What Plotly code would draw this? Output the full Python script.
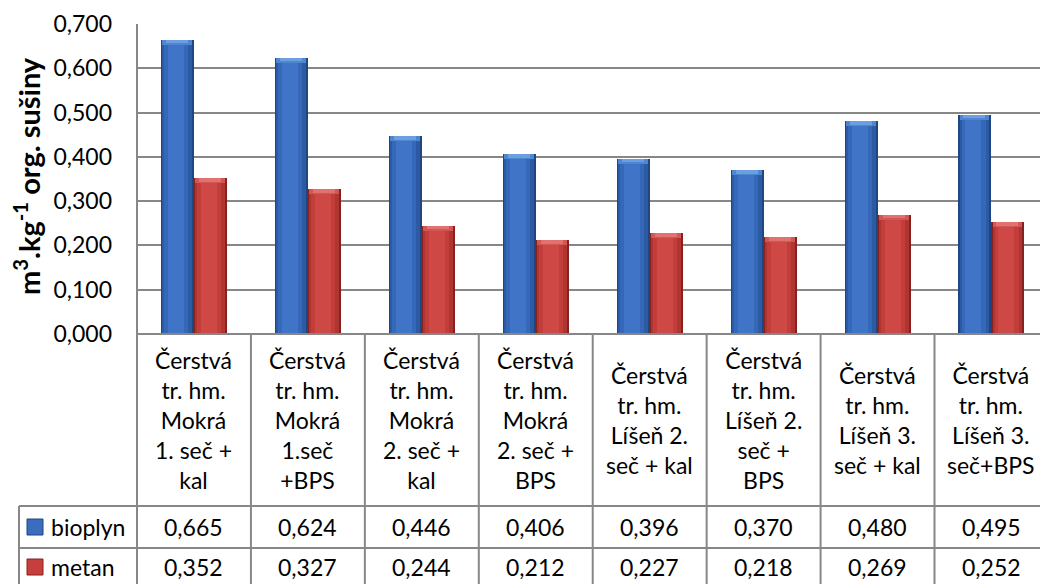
import plotly.graph_objects as go

# Category labels as they appear in the data table header
categories = [
    "Čerstvá<br>tr. hm.<br>Mokrá<br>1. seč +<br>kal",
    "Čerstvá<br>tr. hm.<br>Mokrá<br>1.seč<br>+BPS",
    "Čerstvá<br>tr. hm.<br>Mokrá<br>2. seč +<br>kal",
    "Čerstvá<br>tr. hm.<br>Mokrá<br>2. seč +<br>BPS",
    "Čerstvá<br>tr. hm.<br>Líšeň 2.<br>seč + kal",
    "Čerstvá<br>tr. hm.<br>Líšeň 2.<br>seč +<br>BPS",
    "Čerstvá<br>tr. hm.<br>Líšeň 3.<br>seč + kal",
    "Čerstvá<br>tr. hm.<br>Líšeň 3.<br>seč+BPS",
]
series_names = ["bioplyn", "metan"]
bioplyn = [0.665, 0.624, 0.446, 0.406, 0.396, 0.370, 0.480, 0.495]
metan = [0.352, 0.327, 0.244, 0.212, 0.227, 0.218, 0.269, 0.252]
y_ticks = [0.0, 0.1, 0.2, 0.3, 0.4, 0.5, 0.6, 0.7]
y_title = "m<sup>3</sup>.kg<sup>-1</sup> org. sušiny"

FONT = "Lato"
FS = 23
GRID = "#878787"

W, H = 1040, 584
L, T, B = 137, 24, 250
PLOT_H = H - T - B
PLOT_W = W - L
CAT_PX = 113.93                      # width of one category column in px
X_MAX = -0.5 + PLOT_W / CAT_PX       # the last column runs past the right edge
BAR_W = 33 / CAT_PX
PX_PER_UNIT = PLOT_H / 0.7


def paper_y(px):
    return (H - B - px) / PLOT_H


def paper_x(px):
    return (px - L) / PLOT_W


def fmt(v):
    return f"{v:.3f}".replace(".", ",")


fig = go.Figure()

# Shaded column bars: stacked layers, each narrower and lighter than the last
layers = {
    "bioplyn": [(0, 0, "#1E4680"), (1.5, 2.0, "#2C5BA3"), (3.5, 5.5, "#3568B8"), (7.0, 10.0, "#3F74C6")],
    "metan": [(0, 0, "#87211F"), (1.5, 2.0, "#B03532"), (3.5, 5.5, "#C23E3B"), (7.0, 10.0, "#CE4845")],
}
# lighter bevel at the top of each column
caps = {"bioplyn": [(1.5, 2.0, 5.0, "#4F86D2"), (5.0, 6.0, 3.5, "#6C9EE0")],
        "metan": [(1.5, 2.0, 5.0, "#D25654"), (5.0, 6.0, 3.5, "#E27270")]}
offsets = {"bioplyn": -BAR_W, "metan": 0.0}
values = {"bioplyn": bioplyn, "metan": metan}

for name in series_names:
    vals = values[name]
    for li, (inl, inr, col) in enumerate(layers[name]):
        fig.add_trace(go.Bar(
            x=categories, y=vals, name=name,
            offset=offsets[name] + inl / CAT_PX,
            width=BAR_W - (inl + inr) / CAT_PX,
            marker=dict(color=col, line=dict(width=0)),
            showlegend=False, hoverinfo="skip" if li else None,
        ))
    for inl, inr, h_px, col in caps[name]:
        cap_h = h_px / PX_PER_UNIT
        fig.add_trace(go.Bar(
            x=categories, y=[cap_h] * len(vals), base=[v - cap_h for v in vals],
            offset=offsets[name] + inl / CAT_PX, width=BAR_W - (inl + inr) / CAT_PX,
            marker=dict(color=col, line=dict(width=0)),
            showlegend=False, hoverinfo="skip",
        ))

shapes = []
line = dict(color=GRID, width=2)
bottom = paper_y(H + 10)
# plot left border, from the top gridline to the bottom of the table
shapes.append(dict(type="line", xref="paper", yref="paper", x0=0, x1=0, y0=1, y1=bottom, line=line))
# column separators of the data table
for i in range(len(categories) - 1):
    shapes.append(dict(type="line", xref="x", yref="paper", x0=i + 0.5, x1=i + 0.5,
                       y0=0, y1=bottom, line=line))
# baseline / top of table
shapes.append(dict(type="line", xref="paper", yref="paper", x0=0, x1=1, y0=0, y1=0, line=line))
# row separators incl. legend column
for ypx in (506, 548):
    shapes.append(dict(type="line", xref="paper", yref="paper", x0=paper_x(19), x1=1,
                       y0=paper_y(ypx), y1=paper_y(ypx), line=line))
shapes.append(dict(type="line", xref="paper", yref="paper", x0=paper_x(19), x1=paper_x(19),
                   y0=paper_y(506), y1=bottom, line=line))

annotations = []
# header cells
for i, cat in enumerate(categories):
    annotations.append(dict(x=i, y=paper_y(420), xref="x", yref="paper", text=cat,
                            showarrow=False, xanchor="center", yanchor="middle",
                            font=dict(family=FONT, size=FS, color="#000")))
# value rows with legend keys
row_centers = {"bioplyn": 527, "metan": 567}
key_colors = {"bioplyn": ("#3A6DBD", "#1E4680"), "metan": ("#C63F3C", "#87211F")}
for name in series_names:
    yc = row_centers[name]
    for i, v in enumerate(values[name]):
        annotations.append(dict(x=i, y=paper_y(yc), xref="x", yref="paper", text=fmt(v),
                                showarrow=False, xanchor="center", yanchor="middle",
                                font=dict(family=FONT, size=FS, color="#000")))
    annotations.append(dict(x=paper_x(49), y=paper_y(yc), xref="paper", yref="paper", text=name,
                            showarrow=False, xanchor="left", yanchor="middle",
                            font=dict(family=FONT, size=FS, color="#000")))
    fill, edge = key_colors[name]
    shapes.append(dict(type="rect", xref="paper", yref="paper",
                       x0=paper_x(27), x1=paper_x(43), y0=paper_y(yc - 8), y1=paper_y(yc + 8),
                       fillcolor=fill, line=dict(color=edge, width=1)))

# rotated axis title
annotations.append(dict(x=paper_x(27), y=paper_y(176), xref="paper", yref="paper", text=y_title,
                        textangle=-90, showarrow=False, xanchor="center", yanchor="middle",
                        font=dict(family=FONT, size=29, color="#000", weight="bold")))

fig.update_layout(
    width=W, height=H,
    margin=dict(l=L, r=0, t=T, b=B, pad=0),
    paper_bgcolor="white", plot_bgcolor="white",
    barmode="overlay", bargap=0,
    separators=", ",
    font=dict(family=FONT, size=FS, color="#000"),
    xaxis=dict(range=[-0.5, X_MAX], showticklabels=False, showgrid=False,
               zeroline=False, showline=False, ticks=""),
    yaxis=dict(range=[0, 0.7], tickvals=y_ticks, tickformat=".3f",
               showgrid=True, gridcolor=GRID, gridwidth=2, zeroline=False,
               showline=False, ticks="", ticklabelstandoff=24,
               tickfont=dict(family=FONT, size=FS, color="#000")),
    shapes=shapes, annotations=annotations,
    showlegend=False,
)

fig.write_html("out.html")
